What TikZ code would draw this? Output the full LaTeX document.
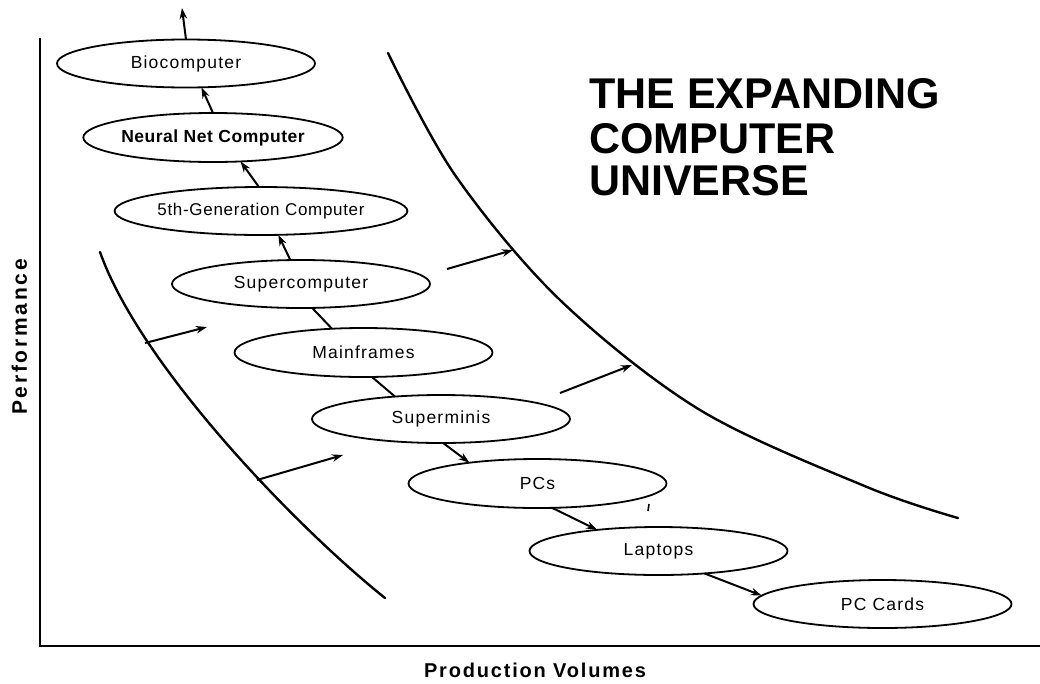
\documentclass[tikz,border=0pt]{standalone}
\usepackage{fontspec}
\setmainfont{Liberation Sans}
\newfontfamily\lab[LetterSpace=7]{Liberation Sans}
\newfontfamily\labn[LetterSpace=4]{Liberation Sans}
\newfontfamily\labb[LetterSpace=3]{Liberation Sans Bold}
\newfontfamily\axlp[LetterSpace=13]{Liberation Sans Bold}
\newfontfamily\axlv[LetterSpace=9]{Liberation Sans Bold}
\newfontfamily\ttl{Liberation Sans Bold}
\usetikzlibrary{shapes.geometric,arrows.meta}
\begin{document}
\begin{tikzpicture}[x=1pt,y=-1pt,
  ov/.style={ellipse,draw,line width=1.8pt,minimum width=258pt,minimum height=48pt,
    inner sep=0pt,outer sep=0pt,font=\lab\fontsize{17.5}{20}\selectfont},
  arr/.style={line width=2pt,-{Stealth[length=11pt,width=7.5pt]}},
  link/.style={line width=2pt},
  bound/.style={line width=2.4pt,line cap=round},
  axis/.style={line width=2.8pt},
  ttlfont/.style={anchor=base west,inner sep=0pt,font=\ttl\fontsize{43}{45}\selectfont}]
\useasboundingbox (0,0) rectangle (1040,683);
\fill[white] (0,0) rectangle (1040,683);

% axes
\draw[axis] (40,38) -- (40,646) -- (1040,646);
\node[font=\axlp\fontsize{21}{23}\selectfont,rotate=90,anchor=base,inner sep=0pt] (perf) at (27,337) {Performance};
\node[font=\axlv\fontsize{20}{22}\selectfont,anchor=base,inner sep=0pt] (prod) at (535,677) {Production Volumes};

% title
\node[ttlfont] (t1) at (589,108) {THE EXPANDING};
\node[ttlfont] (t2) at (589,153) {COMPUTER};
\node[ttlfont] (t3) at (589,195) {UNIVERSE};

% boundary curves
\draw[bound] (100,252) .. controls (140,365) and (295,526) .. (385,598);
\draw[bound] plot[smooth,tension=0.55] coordinates {(388,53) (455,175) (560,300) (700,410) (867,487) (958,518)};

% ellipses
\node[ov] (bio) at (186,63.5) {Biocomputer};
\node[ov,font=\labb\fontsize{17.5}{20}\selectfont,minimum height=49pt] (neural) at (213,137.5) {Neural Net Computer};
\node[ov,font=\labn\fontsize{17}{20}\selectfont] (fifth) at (261,211) {5th-Generation Computer};
\node[ov] (super) at (301,284) {Supercomputer};
\node[ov,minimum height=49pt] (main) at (363.5,352.5) {Mainframes};
\node[ov] (smini) at (441,419) {Superminis};
\node[ov,minimum height=49pt] (pcs) at (537.5,483.5) {PCs};
\node[ov] (lap) at (658.5,551) {Laptops};
\node[ov] (card) at (882.5,604) {PC Cards};

% connectors between ellipses
\coordinate (up) at (182,8);
\draw[arr] (bio.north) -- (up);
\draw[arr] (neural.north) -- (bio.-57);
\draw[arr] (fifth.95) -- (neural.-41);
\draw[arr] (super.114.6) -- (fifth.-54.7);
\draw[link] (super.-65.4) -- (main.143.8);
\draw[link] (main.-71.6) -- (smini.154.5);
\draw[arr] (smini.-85) -- (pcs.163);
\draw[arr] (pcs.-59.4) -- (lap.161);
\draw[arr] (lap.-26) -- (card.176.7);

% expansion arrows
\coordinate (l1s) at (145,343); \coordinate (l1e) at (207,327);
\coordinate (l2s) at (257,480); \coordinate (l2e) at (343,455);
\coordinate (r1s) at (447,269); \coordinate (r1e) at (513,250);
\coordinate (r2s) at (560,393); \coordinate (r2e) at (632,365);
\draw[arr] (l1s) -- (l1e);
\draw[arr] (l2s) -- (l2e);
\draw[arr] (r1s) -- (r1e);
\draw[arr] (r2s) -- (r2e);

% small stray mark
\coordinate (m1) at (649,504); \coordinate (m2) at (648,511);
\draw[line width=1.6pt] (m1) -- (m2);
\end{tikzpicture}
\end{document}
